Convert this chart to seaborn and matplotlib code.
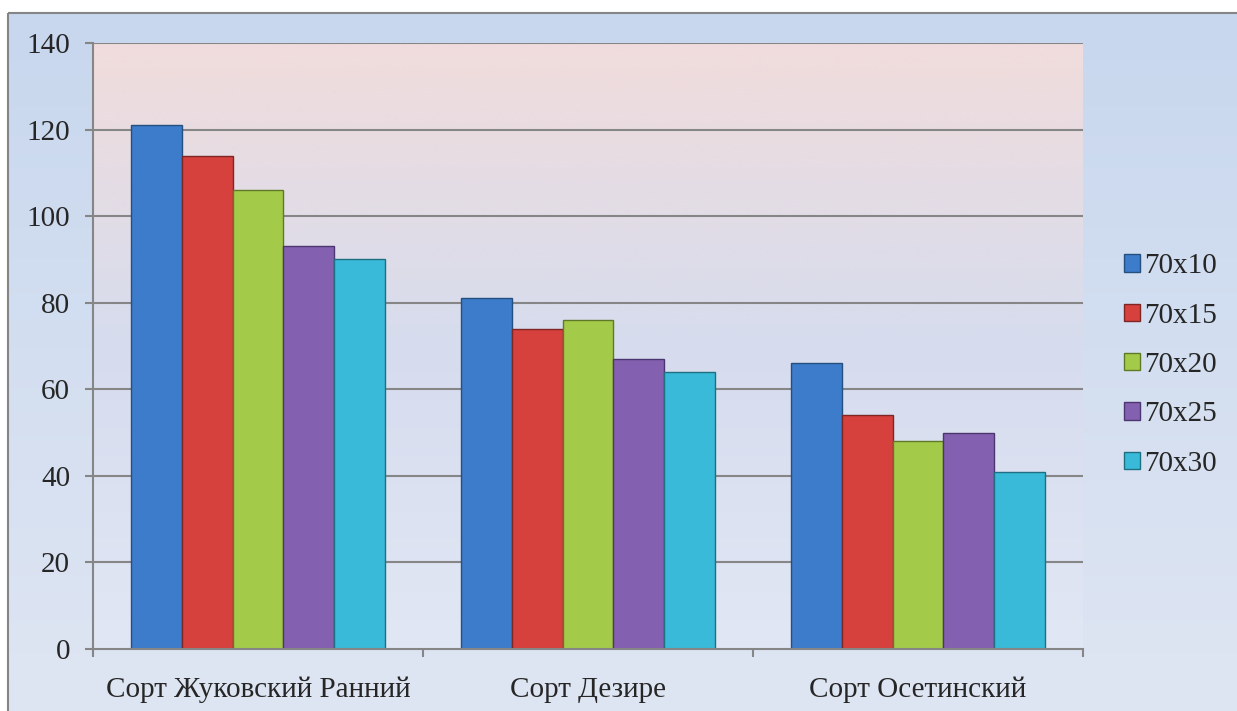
import matplotlib
matplotlib.use("Agg")
import matplotlib.pyplot as plt
import numpy as np
import pandas as pd
import seaborn as sns
from matplotlib.patches import Rectangle
from matplotlib.colors import LinearSegmentedColormap

varieties = ["Сорт Жуковский Ранний", "Сорт Дезире", "Сорт Осетинский"]
schemes = ["70x10", "70x15", "70x20", "70x25", "70x30"]
v_70x10 = [121, 81, 66]
v_70x15 = [114, 74, 54]
v_70x20 = [106, 76, 48]
v_70x25 = [93, 67, 50]
v_70x30 = [90, 64, 41]
y_ticks = [0, 20, 40, 60, 80, 100, 120, 140]

COLORS = ["#3D7BCB", "#D6403D", "#A4CA4A", "#8460B0", "#38BAD8"]
EDGES = ["#24507F", "#7E2624", "#5E7A26", "#4C3670", "#1F6F82"]

rows = []
for name, vals in zip(schemes, [v_70x10, v_70x15, v_70x20, v_70x25, v_70x30]):
    for var, v in zip(varieties, vals):
        rows.append({"variety": var, "scheme": name, "value": v})
df = pd.DataFrame(rows)

sns.set_style("white")
plt.rcParams["font.family"] = ["Liberation Serif", "DejaVu Serif"]

W, H = 1237, 711
fig = plt.figure(figsize=(W / 100, H / 100), dpi=100)
fig.patch.set_facecolor("white")

# outer chart background (gradient) with border
bg = fig.add_axes([0, 0, 1, 1], zorder=-10)
bg.set_xlim(0, W)
bg.set_ylim(H, 0)
bg.axis("off")
outer_cmap = LinearSegmentedColormap.from_list("outer", ["#C8D7EE", "#DFE6F3"])
bg.imshow(np.linspace(0, 1, 256).reshape(-1, 1), cmap=outer_cmap, aspect="auto",
          extent=(8, W + 5, H + 5, 13), interpolation="bilinear")
bg.add_patch(Rectangle((8, 13), W, H, fill=False, edgecolor="#858585", lw=1.5))

ax = fig.add_axes([93 / W, 1 - 649 / H, (1083 - 93) / W, (649 - 43) / H])
ax.patch.set_alpha(0)

# plot-area gradient (pinkish top -> light blue bottom)
inner_cmap = LinearSegmentedColormap.from_list("inner", ["#F1DCDC", "#D6DCEE", "#E1E7F4"])
ax.imshow(np.linspace(0, 1, 256).reshape(-1, 1), cmap=inner_cmap, aspect="auto",
          extent=(-0.5, 2.5, 0, 140), interpolation="bilinear", zorder=0)

sns.barplot(data=df, x="variety", y="value", hue="scheme", palette=COLORS,
            saturation=1, width=0.77, ax=ax, legend=False, zorder=3)

for i, container in enumerate(ax.containers):
    for bar in container:
        bar.set_edgecolor(EDGES[i])
        bar.set_linewidth(1.0)

ax.set_xlim(-0.5, 2.5)
ax.set_ylim(0, 140)
ax.set_yticks(y_ticks)
for y in y_ticks[1:]:
    ax.axhline(y, color="#868686", lw=1.5, zorder=1)

ax.set_xlabel("")
ax.set_ylabel("")
for side in ["top", "right"]:
    ax.spines[side].set_visible(False)
for side in ["left", "bottom"]:
    ax.spines[side].set_color("#868686")
    ax.spines[side].set_linewidth(1.5)
    ax.spines[side].set_zorder(4)

ax.tick_params(axis="y", which="major", direction="out", length=6, width=1.5,
               color="#868686", labelsize=21, pad=10.5, left=True)
ax.tick_params(axis="x", which="major", length=0, labelsize=21, pad=20)
ax.set_xticks([-0.5, 0.5, 1.5, 2.5], minor=True)
ax.tick_params(axis="x", which="minor", direction="out", length=6, width=1.5,
               color="#868686", bottom=True)

handles = [Rectangle((0, 0), 1, 1, facecolor=c, edgecolor=e, lw=1.0)
           for c, e in zip(COLORS, EDGES)]
fig.legend(handles, schemes, loc="center left", bbox_to_anchor=(1124 / W, 1 - 365 / H),
           frameon=False, fontsize=21, handlelength=0.55, handleheight=0.55,
           handletextpad=0.15, labelspacing=0.8, borderaxespad=0, borderpad=0)

fig.savefig("out.png", dpi=100)
